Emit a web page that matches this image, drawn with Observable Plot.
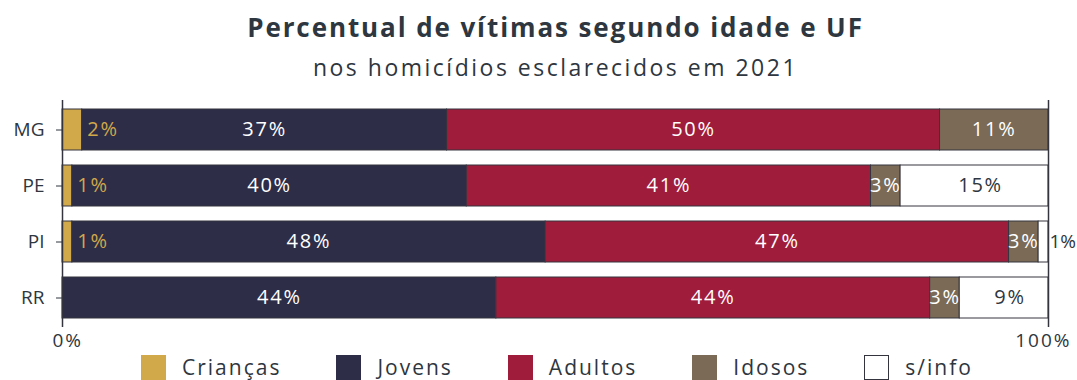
<!DOCTYPE html>
<html>
<head>
<meta charset="utf-8">
<script src="https://cdn.jsdelivr.net/npm/d3@7"></script>
<script src="https://cdn.jsdelivr.net/npm/@observablehq/plot@0.6"></script>
<style>
  body { margin: 0; background: #fff; width: 1077px; height: 380px; overflow: hidden; position: relative; font-family: "Open Sans", sans-serif; color: #2e3640; }
  #title { position: absolute; left: 17px; width: 1077px; top: 10px; text-align: center; font-size: 26px; line-height: 34px; font-weight: 700; letter-spacing: 1.9px; }
  #subtitle { position: absolute; left: 17px; width: 1077px; top: 52px; text-align: center; font-size: 23px; line-height: 30px; letter-spacing: 2.5px; }
  #chart { position: absolute; left: 0; top: 92px; }
  #legend { position: absolute; left: 141px; top: 355px; display: flex; }
  .item { display: flex; align-items: flex-start; margin-right: 55px; }
  .item:last-child { margin-right: 0; }
  .sw { width: 25px; height: 25px; box-sizing: border-box; margin-right: 16px; }
  .lab { font-size: 21px; line-height: 26px; margin-top: -1px; letter-spacing: 2px; }
</style>
</head>
<body>
<div id="title">Percentual de vítimas segundo idade e UF</div>
<div id="subtitle">nos homicídios esclarecidos em 2021</div>
<div id="chart"></div>
<div id="legend"></div>
<script>
// Data
const ufs = ["MG", "PE", "PI", "RR"];
const categories = ["Crianças", "Jovens", "Adultos", "Idosos", "s/info"];
const colors = ["#d1a84a", "#2d2d48", "#a01c3b", "#7a6a56", "#ffffff"];
const criancas = [2, 1, 1, 0];
const jovens   = [37, 40, 48, 44];
const adultos  = [50, 41, 47, 44];
const idosos   = [11, 3, 3, 3];
const semInfo  = [0, 15, 1, 9];
const xTicks = [0, 100];

const series = [criancas, jovens, adultos, idosos, semInfo];
const data = [];
ufs.forEach((uf, i) => {
  categories.forEach((cat, j) => {
    data.push({ uf, cat, value: series[j][i] });
  });
});

const dark = "#2e3640";
const fontFam = "'Open Sans', sans-serif";
const stackOpts = { x: "value", y: "uf", z: "cat", order: categories };
const lbl = d => d.value > 0 ? d.value + "%" : "";
const lblStyle = { fontSize: 20, fontWeight: 500 };
const axStyle = { label: null, tickSize: 0, tickPadding: 6, fontSize: 19, fill: dark };

const plot = Plot.plot({
  width: 1077,
  height: 260,
  marginLeft: 62,
  marginRight: 29,
  marginTop: 8,
  marginBottom: 25,
  style: { fontFamily: fontFam, color: dark, background: "transparent" },
  x: { domain: [0, 100], axis: null },
  y: { domain: ufs, paddingInner: 0.27, paddingOuter: 0.15, axis: null },
  color: { domain: categories, range: colors },
  marks: [
    Plot.barX(data, Plot.stackX({ ...stackOpts, fill: "cat", stroke: "#34343f", strokeWidth: 1 })),
    Plot.ruleX(xTicks, { stroke: "#34343f", strokeWidth: 1.5 }),
    Plot.axisY({ label: null, tickSize: 6, tickPadding: 12, fontSize: 19, fill: dark, stroke: dark }),
    Plot.axisX({ ...axStyle, ticks: [xTicks[0]], tickFormat: d => d + "%", textAnchor: "start", dx: -10 }),
    Plot.axisX({ ...axStyle, ticks: [xTicks[1]], tickFormat: d => d + "%", textAnchor: "end", dx: 23 }),
    // Crianças labels after the bar
    Plot.text(data, Plot.stackX2({ ...stackOpts, ...lblStyle, text: d => d.cat === "Crianças" ? lbl(d) : "", textAnchor: "start", dx: 5, fill: colors[0] })),
    // Jovens / Adultos / Idosos centered white labels
    Plot.text(data, Plot.stackX({ ...stackOpts, ...lblStyle, text: d => ["Jovens", "Adultos", "Idosos"].includes(d.cat) ? lbl(d) : "", fill: "#ffffff" })),
    // s/info centered labels
    Plot.text(data, Plot.stackX({ ...stackOpts, ...lblStyle, text: d => d.cat === "s/info" && d.value >= 5 ? lbl(d) : "", fill: dark, dx: 6 })),
    // s/info small outside labels
    Plot.text(data, Plot.stackX2({ ...stackOpts, fontSize: 19, fontWeight: 500, text: d => d.cat === "s/info" && d.value < 5 ? lbl(d) : "", textAnchor: "start", dx: 1, fill: dark }))
  ]
});
const textGroups = d3.select(plot).selectAll('g[aria-label="text"]');
textGroups.filter((d, i, n) => i < n.length - 1).selectAll("text").style("letter-spacing", "1.8px");
d3.select(plot).selectAll('g[aria-label="x-axis tick label"] text').style("letter-spacing", "2px");
document.getElementById("chart").appendChild(plot);

const legend = document.getElementById("legend");
categories.forEach((c, i) => {
  const it = document.createElement("div");
  it.className = "item";
  const sw = document.createElement("div");
  sw.className = "sw";
  sw.style.background = colors[i];
  if (colors[i] === "#ffffff") sw.style.border = "1px solid #34343f";
  const lb = document.createElement("div");
  lb.className = "lab";
  lb.textContent = c;
  it.appendChild(sw); it.appendChild(lb);
  legend.appendChild(it);
});
</script>
</body>
</html>
